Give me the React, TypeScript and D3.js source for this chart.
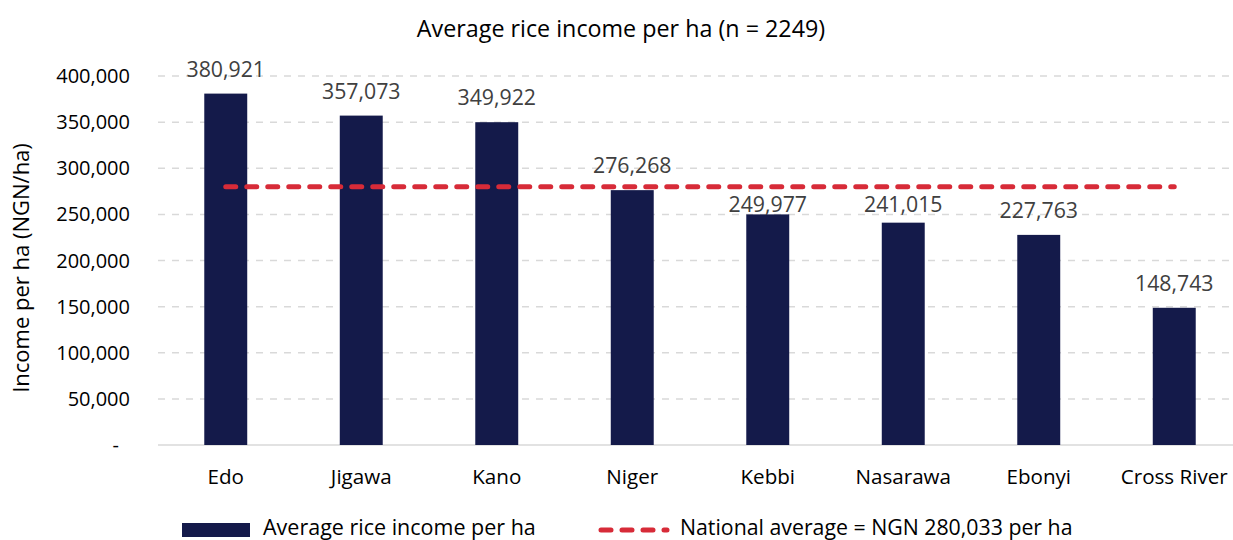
import React from "react";
import * as d3 from "d3";

const categories = ["Edo", "Jigawa", "Kano", "Niger", "Kebbi", "Nasarawa", "Ebonyi", "Cross River"];
const incomes = [380921, 357073, 349922, 276268, 249977, 241015, 227763, 148743];
const nationalAverage = 280033;
const yTicks = [0, 50000, 100000, 150000, 200000, 250000, 300000, 350000, 400000];
const title = "Average rice income per ha (n = 2249)";
const yLabel = "Income per ha (NGN/ha)";
const legendBar = "Average rice income per ha";
const legendLine = "National average = NGN 280,033 per ha";

const W = 1233;
const H = 540;
const FONT = "'Open Sans', Lato, sans-serif";
const BAR = "#141a4a";
const RED = "#d72b38";
const GRID = "#d9d9d9";

export default function App() {
  const x = d3.scaleBand<string>().domain(categories).range([158, 1242]).paddingInner(0.683).paddingOuter(0.3415);
  const y = d3.scaleLinear().domain([0, 400000]).range([445, 76]);
  const fmt = d3.format(",");
  const center = (c: string) => (x(c) as number) + x.bandwidth() / 2;
  const x0 = center(categories[0]);
  const x1 = center(categories[categories.length - 1]);
  const lineY = y(nationalAverage);
  const labelBase = (v: number) => {
    const base = y(v) - 17;
    const top = base - 15;
    // labels that would overlap the average line are pushed just below it
    if (top < lineY + 8 && base > lineY - 4) return lineY + 10 + 15;
    return base;
  };

  return (
    <svg width={W} height={H} style={{ position: "absolute", left: 0, top: 0, background: "#fff" }} fontFamily={FONT}>
      <rect x={0} y={0} width={W} height={H} fill="#fff" />
      <text x={621} y={37} textAnchor="middle" fontSize={23.3} fill="#000">{title}</text>
      {yTicks.map((t) =>
        t === 0 ? null : (
          <line key={"g" + t} x1={158} x2={W} y1={y(t)} y2={y(t)} stroke={GRID} strokeWidth={1.5} strokeDasharray="7 7" />
        )
      )}
      <line x1={158} x2={W} y1={y(0)} y2={y(0)} stroke={GRID} strokeWidth={1.5} />
      {yTicks.map((t) => (
        <text key={"t" + t} x={t === 0 ? 119 : 130} y={y(t) + 7} textAnchor="end" fontSize={20} fill="#000">
          {t === 0 ? "-" : fmt(t)}
        </text>
      ))}
      <text transform={`translate(29,${268}) rotate(-90)`} textAnchor="middle" fontSize={22} fill="#000">{yLabel}</text>
      {categories.map((c, i) => (
        <g key={c}>
          <rect x={x(c)} y={y(incomes[i])} width={x.bandwidth()} height={y(0) - y(incomes[i])} fill={BAR} />
          <text x={center(c)} y={labelBase(incomes[i])} textAnchor="middle" fontSize={21.3} fill="#404040">{fmt(incomes[i])}</text>
          <text x={center(c)} y={484} textAnchor="middle" fontSize={20.6} fill="#000">{c}</text>
        </g>
      ))}
      <line x1={x0} x2={x1} y1={lineY} y2={lineY} stroke={RED} strokeWidth={5} strokeDasharray="10 11" strokeLinecap="round" />
      <rect x={182} y={523} width={68} height={14} fill={BAR} />
      <text x={263} y={535} fontSize={21.5} fill="#000">{legendBar}</text>
      <line x1={601} x2={667} y1={530} y2={530} stroke={RED} strokeWidth={5} strokeDasharray="10 11" strokeLinecap="round" />
      <text x={680} y={535} fontSize={21.3} fill="#000">{legendLine}</text>
    </svg>
  );
}
